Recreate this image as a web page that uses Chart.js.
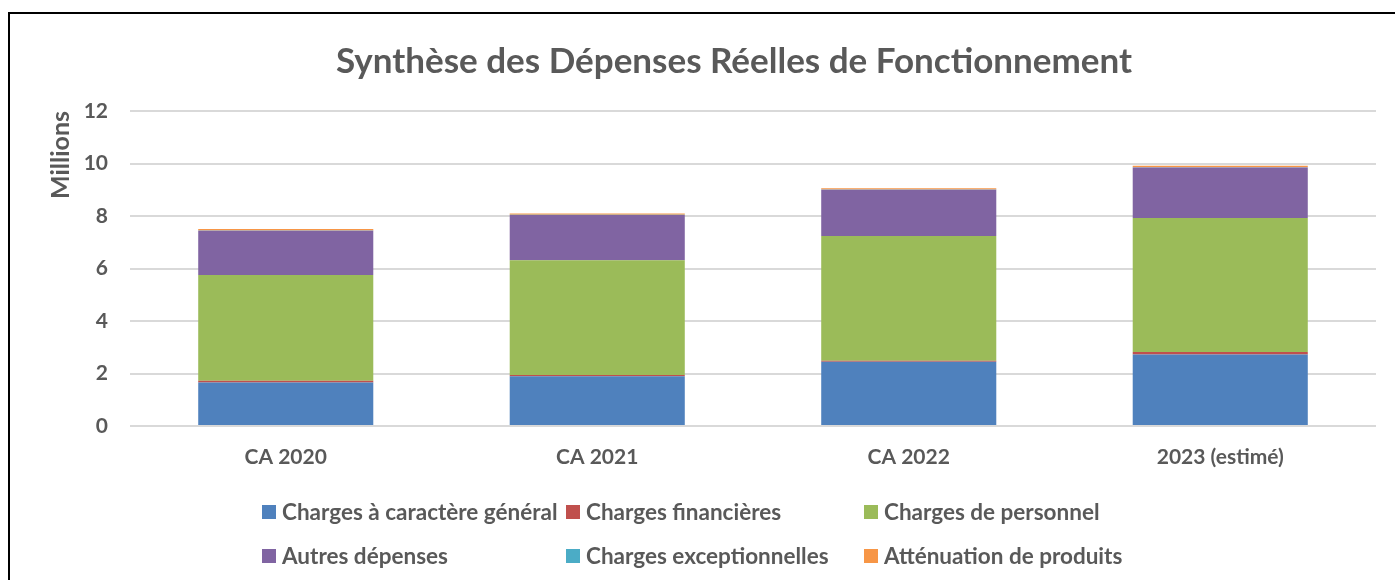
<!DOCTYPE html>
<html>
<head>
<meta charset="utf-8">
<script src="https://cdn.jsdelivr.net/npm/chart.js@4.4.0/dist/chart.umd.min.js"></script>
<style>
  html, body { margin: 0; padding: 0; overflow: hidden; background: #fff; width: 1395px; height: 580px; }
  #frame { position: absolute; left: 8px; top: 12px; border-left: 2px solid #000; border-top: 2px solid #000; width: 1448px; height: 600px; }
  canvas { display: block; }
</style>
</head>
<body>
<div id="frame"><canvas id="c" width="1448" height="600"></canvas></div>
<script>
const categories = ['CA 2020', 'CA 2021', 'CA 2022', '2023 (estimé)'];
const chargesGenerales = [1.66, 1.90, 2.45, 2.72];
const chargesFinancieres = [0.06, 0.04, 0.04, 0.10];
const chargesPersonnel = [4.03, 4.37, 4.75, 5.10];
const autresDepenses = [1.69, 1.73, 1.76, 1.93];
const chargesExceptionnelles = [0.005, 0.005, 0.005, 0.005];
const attenuationProduits = [0.06, 0.05, 0.05, 0.06];
const yTicks = [0, 2, 4, 6, 8, 10, 12];

const FONT = 'Lato, "Open Sans", sans-serif';
const TEXT = '#595959';

const series = [
  { label: 'Charges à caractère général', data: chargesGenerales, color: '#4F81BD' },
  { label: 'Charges financières', data: chargesFinancieres, color: '#C0504D' },
  { label: 'Charges de personnel', data: chargesPersonnel, color: '#9BBB59' },
  { label: 'Autres dépenses', data: autresDepenses, color: '#8064A2' },
  { label: 'Charges exceptionnelles', data: chargesExceptionnelles, color: '#4BACC6' },
  { label: 'Atténuation de produits', data: attenuationProduits, color: '#F79646' }
];

const gridLegend = {
  id: 'gridLegend',
  afterLayout(chart) {
    // center the title over the whole chart frame
    if (chart.titleBlock) {
      chart.titleBlock.left = 0;
      chart.titleBlock.right = chart.width;
      chart.titleBlock.width = chart.width;
    }
  },
  afterDraw(chart) {
    const ctx = chart.ctx;
    const colX = [252, 556, 854];
    const rowY = [chart.chartArea.bottom + 86, chart.chartArea.bottom + 130];
    ctx.save();
    ctx.font = 'bold 22.5px ' + FONT;
    ctx.textBaseline = 'middle';
    ctx.textAlign = 'left';
    chart.data.datasets.forEach((ds, i) => {
      const x = colX[i % 3];
      const y = rowY[Math.floor(i / 3)];
      ctx.fillStyle = ds.backgroundColor;
      ctx.fillRect(x, y - 7, 14, 14);
      ctx.fillStyle = TEXT;
      ctx.fillText(ds.label, x + 20, y + 1);
    });
    ctx.restore();
  }
};

new Chart(document.getElementById('c'), {
  type: 'bar',
  data: {
    labels: categories,
    datasets: series.map(s => ({
      label: s.label,
      data: s.data,
      backgroundColor: s.color,
      borderWidth: 0,
      categoryPercentage: 1.0,
      barPercentage: 0.562
    }))
  },
  options: {
    responsive: false,
    animation: false,
    devicePixelRatio: 1,
    layout: { padding: { left: 0, right: 82, top: 0, bottom: 128 } },
    plugins: {
      legend: { display: false },
      tooltip: { enabled: false },
      title: {
        display: true,
        text: 'Synthèse des Dépenses Réelles de Fonctionnement',
        color: TEXT,
        font: { family: FONT, size: 35, weight: 'bold', lineHeight: 1.2 },
        padding: { top: 27, bottom: 28 }
      }
    },
    scales: {
      x: {
        stacked: true,
        grid: { display: false, drawTicks: false },
        border: { display: false },
        ticks: { color: TEXT, font: { family: FONT, size: 21, weight: 'bold' }, padding: 19 },
        afterFit(scale) { scale.height = 60; }
      },
      y: {
        stacked: true,
        min: 0,
        max: 12,
        afterBuildTicks(scale) { scale.ticks = yTicks.map(v => ({ value: v })); },
        grid: { color: '#D9D9D9', lineWidth: 2, drawTicks: false },
        border: { display: false },
        ticks: { color: TEXT, font: { family: FONT, size: 21, weight: 'bold' }, padding: 22 },
        title: {
          display: true,
          text: 'Millions',
          align: 'end',
          color: TEXT,
          font: { family: FONT, size: 25, weight: 'bold', lineHeight: 1.2 },
          padding: { top: 36, bottom: 0 }
        },
        afterFit(scale) { scale.width = 120; }
      }
    }
  },
  plugins: [gridLegend]
});
</script>
</body>
</html>
